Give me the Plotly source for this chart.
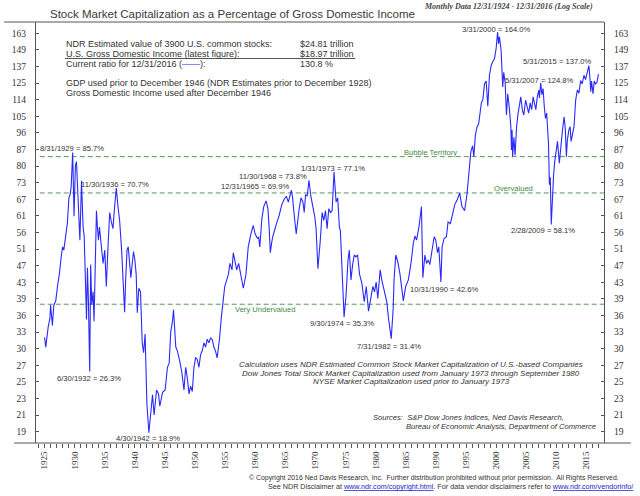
import numpy as np
import plotly.graph_objects as go

# readings: (decimal year, stock market cap as % of GDI)
seg_1925 = [(1925.0,31.6),(1925.2,30.0),(1925.6,33.4),(1925.9,35.1),(1926.0,37.7),(1926.3,33.7),(1926.55,37.7),(1926.85,38.4),
    (1927.15,41.6),(1927.45,44.4),(1927.8,49.3),(1928.0,51.5),(1928.2,50.6),(1928.55,56.3),(1928.78,58.4),
    (1929.05,67.1),(1929.25,68.3),(1929.42,71.2),(1929.67,85.7),(1929.9,60.8),(1930.12,79.8),(1930.3,81.6),
    (1930.58,64.0),(1930.87,53.4),(1931.14,73.6),(1931.4,57.3),(1931.58,54.6),(1931.8,42.8),(1931.97,34.8),
    (1932.12,46.0),(1932.28,38.8),(1932.5,26.3),(1932.66,46.8),(1932.84,37.7),(1933.06,40.4),(1933.22,34.5),
    (1933.5,53.4),(1933.62,62.6),(1933.78,57.3),(1933.95,53.4),(1934.12,57.3),(1934.44,51.5),(1934.72,47.1),
    (1935.0,50.6),(1935.26,41.6),(1935.54,51.5),(1935.82,62.0),(1936.1,58.9),(1936.36,56.8),(1936.64,64.0),
    (1936.92,70.7),(1937.2,64.0),(1937.47,59.4),(1937.8,50.6),(1938.02,42.3),(1938.3,36.2),(1938.47,43.1),
    (1938.7,50.6),(1938.9,51.5),(1939.12,46.3),(1939.34,43.6),(1939.56,47.1),(1939.78,50.2),(1940.0,48.0),
    (1940.22,44.4),(1940.4,36.1),(1940.66,41.2),(1940.94,40.4),(1941.22,30.7),(1941.45,29.1),(1941.7,32.2),
    (1942.0,22.1),(1942.33,18.9)]
seg_1942 = [(1942.93,23.2),(1943.2,20.8),(1943.6,23.8),(1943.93,23.3),(1944.14,21.8),(1944.6,23.5),(1945.03,23.8),
    (1945.41,26.9),(1945.7,27.5),(1945.96,32.6),(1946.24,34.4),(1946.42,36.7),(1946.8,30.0),(1947.06,29.4),
    (1947.45,27.8),(1947.78,26.3),(1948.16,23.8),(1948.44,26.9),(1948.71,25.4),(1949.0,23.3),(1949.26,24.3),
    (1949.54,23.6),(1949.81,26.9),(1950.09,28.3),(1950.36,28.1),(1950.64,26.9),(1950.92,28.8),(1951.19,29.4),
    (1951.47,30.7),(1951.74,30.0),(1952.02,31.3),(1952.29,30.7),(1952.57,31.5),(1952.84,31.3),(1953.12,30.0),
    (1953.39,29.4),(1953.67,28.3),(1954.05,31.3),(1954.38,35.4),(1954.6,37.5),(1954.93,41.6),(1955.15,42.6)]
seg_1955 = [(1955.53,44.4),(1955.8,47.1),(1956.13,45.5),(1956.35,49.9),(1956.63,48.0),(1956.91,45.5),(1957.24,47.1),
    (1957.62,44.4),(1958.01,41.2),(1958.45,44.4),(1958.83,51.5),(1959.27,55.2),(1959.66,57.8),(1959.99,55.2),
    (1960.37,53.9),(1960.55,54.4),(1960.75,51.5),(1961.1,60.0),(1961.4,64.0),(1961.8,66.0),(1962.1,63.3),
    (1962.3,57.3),(1962.5,49.9),(1962.7,52.4),(1962.9,54.4),(1963.51,58.3),(1963.95,60.9),
    (1964.39,64.6),(1964.78,66.5),(1965.16,67.7),(1965.49,65.6),(1966.0,69.9),(1966.2,67.1),(1966.5,60.5),
    (1966.8,55.2),(1967.25,62.6),(1967.58,67.1),(1967.91,65.6),(1968.13,62.0),(1968.35,68.3),(1968.63,67.7),
    (1968.92,73.8),(1969.23,67.7),(1969.56,64.0),(1969.89,60.5),(1970.1,56.8),(1970.4,45.8),(1970.8,53.4)]
seg_1971 = [(1971.1,62.0),(1971.38,59.4),(1971.66,62.6),(1971.93,56.8),(1972.21,63.3),(1972.48,62.0),(1972.76,62.6),
    (1973.08,77.1),(1973.42,65.6),(1973.69,67.1),(1973.97,57.3),(1974.13,56.3),(1974.41,47.1),(1974.6,40.4),
    (1974.75,35.3),(1975.07,39.5),(1975.4,48.0),(1975.62,50.6),(1975.89,43.1),(1976.17,46.8),(1976.44,49.3),
    (1976.72,48.8),(1976.99,49.3),(1977.32,44.4),(1977.71,42.3),(1978.1,38.3),(1978.43,41.6),(1978.81,36.4),
    (1979.2,39.5),(1979.53,41.6),(1979.8,40.4),(1980.08,42.6),(1980.35,39.0),(1980.74,45.5),(1981.01,43.1),
    (1981.4,40.4),(1981.84,38.3),(1982.11,35.2),(1982.58,31.4),(1982.9,36.8),(1983.05,43.1),(1983.33,49.3),
    (1983.66,47.6),(1984.04,44.4),(1984.31,41.6),(1984.59,38.5),(1984.98,41.6),(1985.42,43.1),(1985.86,47.1),
    (1986.24,52.4),(1986.52,54.6),(1986.79,53.4),(1987.18,57.3),(1987.6,64.0),(1987.83,43.6),(1988.17,49.3),
    (1988.44,47.1),(1988.72,48.0),(1988.99,46.8),(1989.38,50.6),(1989.71,54.4),(1989.98,53.4),(1990.26,49.9),
    (1990.48,51.5),(1990.83,42.6),(1991.03,51.5),(1991.36,53.9),(1991.75,54.4),(1992.02,58.9),(1992.41,58.4),
    (1992.74,60.9),(1993.12,64.6),(1993.56,66.5),(1993.95,68.8),(1994.33,64.0),(1994.77,62.6),(1995.16,68.3),
    (1995.49,77.8)]
seg_1995 = [(1995.8,86.0),(1996.1,88.9),(1996.3,83.8),(1996.55,94.0),(1996.85,98.5),(1997.1,100.0),(1997.3,105.6),
    (1997.55,112.0),(1997.8,114.0),(1998.07,124.0),(1998.35,126.0),(1998.62,110.0),(1998.9,130.0),(1999.18,137.0),
    (1999.45,140.0),(1999.73,142.0),(2000.0,150.0),(2000.17,160.0),(2000.25,164.0),(2000.4,154.0),(2000.55,160.0),
    (2000.83,149.0),(2001.1,122.0),(2001.27,132.0),(2001.5,125.0),(2001.72,104.9),(2001.93,117.6),(2002.2,108.7),
    (2002.45,98.5),(2002.55,86.9),(2002.65,96.8),(2002.75,83.8),(2002.95,93.0),(2003.15,84.5),(2003.4,98.5),
    (2003.65,105.8),(2003.9,110.0),(2004.1,115.7),(2004.35,108.0),(2004.6,104.9),(2004.9,113.6),(2005.15,109.0),
    (2005.4,106.0),(2005.65,112.0),(2005.9,108.0),(2006.15,115.7),(2006.4,110.0),(2006.6,108.0),(2006.85,116.0),
    (2007.1,120.0),(2007.2,115.0),(2007.41,124.8),(2007.6,117.0),(2007.8,121.0),(2008.0,110.0),(2008.2,103.0),
    (2008.4,106.0),(2008.53,98.5),(2008.7,90.0),(2008.85,72.0),(2009.0,75.0),(2009.16,58.1),(2009.35,68.0),
    (2009.55,76.0),(2009.75,82.0),(2009.95,86.9),(2010.2,91.0),(2010.5,80.9),(2010.75,89.0),(2011.0,96.0),
    (2011.3,103.9),(2011.5,97.0),(2011.67,83.8),(2011.84,91.7),(2012.1,97.0),(2012.3,98.5),(2012.45,91.0),
    (2012.7,96.0),(2012.94,98.5),(2013.21,113.6),(2013.5,120.1),(2013.75,118.0),(2014.04,126.4),(2014.3,124.0),
    (2014.59,130.0),(2014.85,127.0),(2015.14,132.2),(2015.41,137.0),(2015.6,127.0),(2015.72,119.0),(2015.85,126.0),
    (2016.1,117.6),(2016.3,126.0),(2016.5,124.0),(2016.75,125.0),(2017.0,130.8)]

ytick_text = ['19','21','23','25','27','30','33','36','39','43','47','51','56','61','67','73','80','87','96','105','114','125','137','149','163']
year_ticks = list(range(1925, 2020, 5))
zones = [('Bubble Territory', 83.8), ('Overvalued', 68.9), ('Very Undervalued', 37.8)]
extremes = [('8/31/1929',85.7),('11/30/1936',70.7),('6/30/1932',26.3),('4/30/1942',18.9),('12/31/1965',69.9),
    ('11/30/1968',73.8),('1/31/1973',77.1),('9/30/1974',35.3),('7/31/1982',31.4),('10/31/1990',42.6),
    ('2/28/2009',58.1),('3/31/2000',164.0),('5/31/2015',137.0),('5/31/2007',124.8)]
info_rows = [('NDR Estimated value of 3900 U.S. common stocks:', '$24.81 trillion'),
    ('U.S. Gross Domestic Income (latest figure):', '$18.97 trillion'),
    ("Current ratio for 12/31/2016 (<span style='color:#2a2aff'>\u2014\u2014</span>):", '130.8 %')]

# pixel layout of the picture
L, R, T, B = 34, 605, 22, 443
def px(x): return (x - L) / (R - L)
def py(y): return (B - y) / (B - T)

yr = [p[0] for s in (seg_1925, seg_1942, seg_1955, seg_1971, seg_1995) for p in s]
pct = [p[1] for s in (seg_1925, seg_1942, seg_1955, seg_1971, seg_1995) for p in s]
xr = [1923.58, 2017.92]
yrange = [np.log10(17.88), np.log10(173.25)]
yv = 19 * (163 / 19) ** (np.arange(len(ytick_text)) / (len(ytick_text) - 1))

sans, serif = 'Liberation Sans', 'Liberation Serif'
ink, green = '#333333', '#5a985a'

fig = go.Figure()
for name, v in zones:
    fig.add_trace(go.Scatter(x=[1924.2, xr[1]], y=[v, v], mode='lines', hoverinfo='skip',
                             line=dict(color=green, width=1, dash='5px,3px')))
fig.add_trace(go.Scatter(x=yr, y=pct, mode='lines', hoverinfo='skip', line=dict(color='#2a2aff', width=1.1)))
fig.add_trace(go.Scatter(x=[None], y=[None], yaxis='y2', hoverinfo='skip'))

yax = dict(type='log', range=yrange, tickvals=yv, ticktext=ytick_text, ticks='inside', ticklen=3, tickcolor='#555',
           showline=True, linecolor='#555', linewidth=1, showgrid=False, zeroline=False, ticklabelstandoff=7,
           tickfont=dict(family=serif, size=9.5, color=ink))
fig.update_layout(
    width=640, height=496, margin=dict(l=L, r=640 - R, t=T, b=496 - B), showlegend=False,
    plot_bgcolor='white', paper_bgcolor='white',
    xaxis=dict(range=xr, tickvals=year_ticks, ticktext=[str(y) for y in year_ticks], tickangle=-90,
               ticks='outside', ticklen=4, tickcolor='#555', showline=False, showgrid=False, zeroline=False,
               tickfont=dict(family=serif, size=9, color=ink),
               minor=dict(dtick=1, tick0=1925, ticks='outside', ticklen=4, tickcolor='#555', showgrid=False)),
    yaxis=yax,
    yaxis2=dict(yax, overlaying='y', side='right'),
)

# frame lines beyond the plot box
fig.add_shape(type='line', xref='paper', yref='paper', x0=px(12), x1=px(632), y0=0, y1=0, line=dict(color='#555', width=1))
fig.add_shape(type='line', xref='paper', yref='paper', x0=px(2), x1=1, y0=1, y1=1, line=dict(color='#555', width=1))
fig.add_shape(type='line', xref='paper', yref='paper', x0=px(63), x1=px(355), y0=py(58.5), y1=py(58.5), line=dict(color='#555', width=1))

def note(txt, x, y, size=7.6, color=ink, anchor='center', family=sans):
    fig.add_annotation(text=txt, x=px(x), y=py(y), xref='paper', yref='paper', xanchor=anchor, yanchor='middle',
                       showarrow=False, font=dict(size=size, color=color, family=family))

note('Stock Market Capitalization as a Percentage of Gross Domestic Income', 232, 13.5, size=11.5, color='#3a3a3a')
note('<b><i>Monthly Data 12/31/1924 - 12/31/2016 (Log Scale)</i></b>', 509, 6, size=8, color='#444', family=serif)

for (a, b), y in zip(info_rows, [44.3, 54.3, 64.3]):
    note(a, 62, y, size=9, anchor='left')
    note(b, 297, y, size=9, anchor='left')
note('GDP used prior to December 1946 (NDR Estimates prior to December 1928)', 62, 83.3, size=9, anchor='left')
note('Gross Domestic Income used after December 1946', 62, 93.3, size=9, anchor='left')

label_xy = [(70,148),(113.5,184.3),(87,378.3),(146.5,438.3),(254.5,186.7),(272.7,176),(332.5,168.3),(342,323),
            (389,346.7),(443.7,289),(543.8,230),(496.3,29.3),(557.8,62),(539.5,80)]
for (d, v), (x, y) in zip(extremes, label_xy):
    note(f'{d} = {v:.1f}%', x, y)

for (name, v), (x, y) in zip(zones, [(431, 152.8), (514.5, 188.8), (264, 309)]):
    note(name, x, y, color='#3f8a3f')

note('<i>Calculation uses NDR Estimated Common Stock Market Capitalization of U.S.-based Companies</i>', 411, 364, size=8)
note('<i>Dow Jones Total Stock Market Capitalization used from January 1973 through September 1980</i>', 411, 373.3, size=8)
note('<i>NYSE Market Capitalization used prior to January 1973</i>', 411, 381.7, size=8)
note('<i>Sources:  S&P Dow Jones Indices, Ned Davis Research,</i>', 371, 417.3, size=7.6, anchor='left')
note('<i>Bureau of Economic Analysis, Department of Commerce</i>', 404, 426, size=7.6, anchor='left')

note('\u00a9 Copyright 2016 Ned Davis Research, Inc.  Further distribution prohibited without prior permission.  All Rights Reserved.',
     246, 477.7, size=6.9, anchor='left')
note("See NDR Disclaimer at <span style='color:#1a1acc'><u>www.ndr.com/copyright.html</u></span>. For data vendor disclaimers refer to "
     "<span style='color:#1a1acc'><u>www.ndr.com/vendorinfo/</u></span>", 265, 486.7, size=7.2, anchor='left')

# page has a default 8px body margin; drop it so the figure sits at the window corner
fig.write_html('out.html', config={'displayModeBar': False},
               post_script="document.body.style.margin='0';document.body.style.overflow='hidden';")
